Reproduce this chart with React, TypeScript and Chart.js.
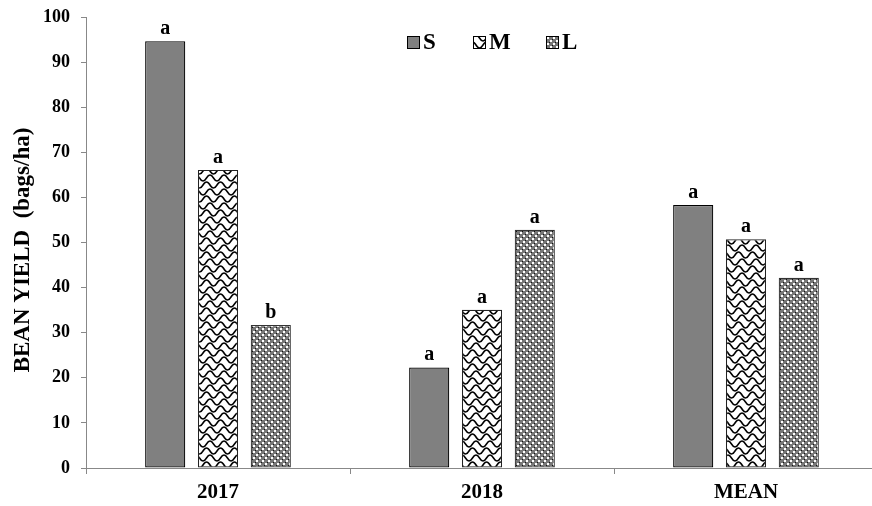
import { useEffect, useRef } from 'react';
import { Chart, registerables } from 'chart.js';
Chart.register(...registerables);

const categories = ['2017', '2018', 'MEAN'];
const seriesNames = ['S', 'M', 'L'];
const sValues = [94.6, 22.3, 58.3];
const mValues = [66.1, 35.1, 50.7];
const lValues = [31.7, 52.8, 42.2];
const sLetters = ['a', 'a', 'a'];
const mLetters = ['a', 'a', 'a'];
const lLetters = ['b', 'a', 'a'];
const yTitle = 'BEAN YIELD  (bags/ha)';

const FONT = '"Liberation Serif", "Times New Roman", serif';

function makeWeave(): CanvasPattern | string {
  const c = document.createElement('canvas');
  c.width = 14; c.height = 14;
  const g = c.getContext('2d');
  if (!g) return '#fff';
  g.fillStyle = '#fff';
  g.fillRect(0, 0, 14, 14);
  g.strokeStyle = '#000';
  g.lineWidth = 1.5;
  for (const oy of [0, 7, 14]) {
    const sh = (oy / 7) % 2 === 1 ? 3.5 : 0;
    g.beginPath();
    g.moveTo(-7 + sh, oy + 3);
    g.quadraticCurveTo(-3.5 + sh, oy - 3, 0 + sh, oy + 3);
    g.quadraticCurveTo(3.5 + sh, oy + 9, 7 + sh, oy + 3);
    g.quadraticCurveTo(10.5 + sh, oy - 3, 14 + sh, oy + 3);
    g.quadraticCurveTo(17.5 + sh, oy + 9, 21 + sh, oy + 3);
    g.stroke();
  }
  const p = g.createPattern(c, 'repeat');
  return p || '#fff';
}

function makeChecker(): CanvasPattern | string {
  const c = document.createElement('canvas');
  c.width = 6; c.height = 6;
  const g = c.getContext('2d');
  if (!g) return '#999';
  g.fillStyle = '#777777';
  g.fillRect(0, 0, 6, 6);
  g.fillStyle = '#ffffff';
  g.fillRect(1, 1, 2, 2);
  g.fillRect(4, 4, 2, 2);
  g.fillStyle = '#111';
  g.fillRect(0, 3, 1, 1);
  g.fillRect(3, 0, 1, 1);
  const p = g.createPattern(c, 'repeat');
  return p || '#999';
}

export default function App() {
  const ref = useRef<HTMLCanvasElement>(null);
  useEffect(() => {
    if (!ref.current) return;
    const weave = makeWeave();
    const checker = makeChecker();
    const fills = ['#808080', weave, checker];
    const borders = ['#000', '#222', '#333'];
    const letters = [sLetters, mLetters, lLetters];
    const values = [sValues, mValues, lValues];

    const labelPlugin = {
      id: 'barLetters',
      afterDatasetsDraw(chart: any) {
        const ctx = chart.ctx;
        ctx.save();
        ctx.font = `bold 20px ${FONT}`;
        ctx.fillStyle = '#000';
        ctx.textAlign = 'center';
        ctx.textBaseline = 'alphabetic';
        chart.data.datasets.forEach((_d: any, di: number) => {
          const meta = chart.getDatasetMeta(di);
          meta.data.forEach((el: any, i: number) => {
            ctx.fillText(letters[di][i], el.x, el.y - 7);
          });
        });
        ctx.restore();
      },
    };

    const legendPlugin = {
      id: 'customLegend',
      afterDraw(chart: any) {
        const ctx = chart.ctx;
        ctx.save();
        const xs = [407, 473, 546];
        ctx.font = `bold 23px ${FONT}`;
        ctx.textBaseline = 'middle';
        ctx.textAlign = 'left';
        seriesNames.forEach((n, i) => {
          ctx.fillStyle = fills[i];
          ctx.fillRect(xs[i], 36, 12, 12);
          ctx.strokeStyle = '#000';
          ctx.lineWidth = 1;
          ctx.strokeRect(xs[i] + 0.5, 36.5, 12, 12);
          ctx.fillStyle = '#000';
          ctx.fillText(n, xs[i] + 16, 43);
        });
        ctx.restore();
      },
    };

    const titlePlugin = {
      id: 'yTitle',
      afterDraw(chart: any) {
        const ctx = chart.ctx;
        ctx.save();
        ctx.translate(23, 250);
        ctx.rotate(-Math.PI / 2);
        ctx.font = `bold 23px ${FONT}`;
        ctx.fillStyle = '#000';
        ctx.textAlign = 'center';
        ctx.textBaseline = 'middle';
        ctx.fillText(yTitle, 0, 0);
        ctx.restore();
      },
    };

    const chart = new Chart(ref.current, {
      type: 'bar',
      data: {
        labels: categories,
        datasets: seriesNames.map((n, i) => ({
          label: n,
          data: values[i],
          backgroundColor: fills[i] as any,
          borderColor: borders[i],
          borderWidth: 1.2,
          borderSkipped: false,
          barPercentage: 0.76,
          categoryPercentage: 0.6,
        })),
      },
      options: {
        responsive: false,
        animation: false,
        layout: { padding: { top: 17, right: 2, left: 0, bottom: 0 } },
        plugins: { legend: { display: false }, tooltip: { enabled: false } },
        scales: {
          x: {
            type: 'category',
            offset: true,
            grid: { offset: true, drawOnChartArea: false, tickLength: 6, color: '#888' },
            border: { color: '#888', width: 1 },
            ticks: { color: '#000', font: { family: FONT, size: 21, weight: 'bold' }, padding: 6 },
            afterFit: (s: any) => { s.height = 38; },
          },
          y: {
            min: 0,
            max: 100,
            ticks: { stepSize: 10, color: '#000', font: { family: FONT, size: 18, weight: 'bold' }, padding: 11 },
            grid: { drawOnChartArea: false, tickLength: 5, color: '#888' },
            border: { color: '#888', width: 1 },
            afterFit: (s: any) => { s.width = 86; s.paddingTop = 8; s.paddingBottom = 8; },
          },
        },
      },
      plugins: [labelPlugin, legendPlugin, titlePlugin],
    });
    return () => chart.destroy();
  }, []);
  return (
    <div style={{ position: 'absolute', left: 0, top: 0, width: 872, height: 506, overflow: 'hidden', background: '#fff' }}>
      <canvas ref={ref} width={880} height={506} style={{ display: 'block' }} />
    </div>
  );
}
